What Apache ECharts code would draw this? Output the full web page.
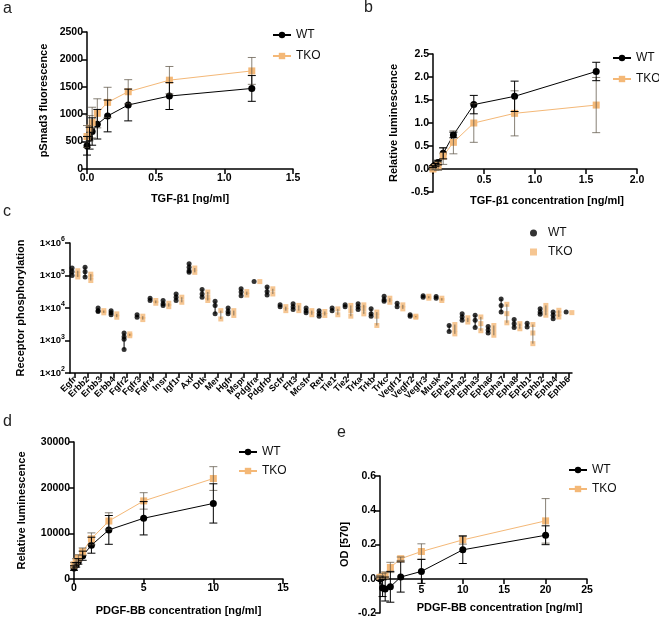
<!DOCTYPE html>
<html>
<head>
<meta charset="utf-8">
<script src="https://cdn.jsdelivr.net/npm/echarts@6/dist/echarts.min.js"></script>
<style>
html,body{margin:0;padding:0;background:#fff;}
#chart{width:659px;height:618px;}
</style>
</head>
<body>
<div id="chart"></div>
<script>
// ---------- Panel a ----------
const aX = [0, 0.01875, 0.0375, 0.075, 0.15, 0.3, 0.6, 1.2];
const aWT = [424, 563, 684, 817, 968, 1168, 1331, 1470];
const aWTsd = [170, 200, 250, 270, 290, 290, 245, 235];
const aTKO = [593, 744, 847, 1016, 1216, 1410, 1621, 1790];
const aTKOsd = [200, 230, 280, 265, 275, 220, 250, 245];
// ---------- Panel b ----------
const bX = [0, 0.025, 0.05, 0.1, 0.2, 0.4, 0.8, 1.6];
const bWT = [0.05, 0.09, 0.14, 0.34, 0.74, 1.40, 1.58, 2.12];
const bWTsd = [0.02, 0.03, 0.05, 0.12, 0.06, 0.2, 0.33, 0.2];
const bTKO = [0.0, 0.04, 0.07, 0.28, 0.58, 1.0, 1.21, 1.39];
const bTKOsd = [0.02, 0.05, 0.1, 0.18, 0.25, 0.42, 0.49, 0.6];
// ---------- Panel c ----------
const cCats = ['Egfr','Erbb2','Erbb3','Erbb4','Fgfr2','Fgfr3','Fgfr4','Insr','Igf1r','Axl','Dtk','Mer','Hgfr','Mspr','Pdgfra','Pdgfrb','Scfr','Flt3','Mcsfr','Ret','Tie1','Tie2','Trka','Trkb','Trkc','Vegfr1','Vegfr2','Vegfr3','Musk','Epha1','Epha2','Epha3','Epha6','Epha7','Epha8','Ephb1','Ephb2','Ephb4','Ephb6'];
const cWT = [
 [1.7e5,1.3e5,1.0e5],[1.8e5,1.3e5,0.9e5],[1.0e4,8.3e3,7.8e3],[8.3e3,7.1e3,6.2e3],[1.7e3,1.3e3,1.1e3,530],
 [6.2e3,5.2e3],[2.0e4,1.7e4],[1.7e4,1.35e4,1.2e4],[2.7e4,2.15e4,1.7e4],[2.3e5,1.8e5,1.4e5,1.25e5],
 [3.7e4,2.7e4,2.15e4],[1.6e4,1.2e4,6.6e3],[1.0e4,7.8e3,6.6e3],[3.9e4,3.1e4,2.4e4],[6.5e4],
 [4.4e4,3.2e4,2.5e4],[1.25e4,1.1e4],[1.35e4,1.1e4,9e3],[1.0e4,8.3e3,7.1e3],[8.3e3,6.6e3,5.6e3],
 [1.0e4,8.3e3],[1.25e4,1.1e4],[1.35e4,1.1e4,9e3],[9.4e3,6.6e3,5.6e3],[2.3e4,1.8e4,1.6e4],
 [1.4e4,1.1e4],[6.2e3,5.6e3],[2.4e4,2.15e4],[2.25e4,2.0e4],[2.9e3,1.9e3],
 [6.7e3,5.3e3,4.2e3],[6.0e3,4.2e3,2.5e3],[2.7e3,2.1e3,1.7e3],[1.9e4,1.2e4,7.5e3],[4.4e3,3.3e3,2.5e3],
 [3.4e3,2.6e3],[9.5e3,7.5e3,6.4e3],[7.5e3,6.0e3,4.7e3],[7.5e3]
];
const cTKO = [
 [1.4e5,1.1e5,0.9e5],[1.1e5,0.9e5,0.7e5],[8.3e3,7.1e3],[6.6e3,5.2e3],[1.6e3,1.4e3],
 [5.6e3,4.4e3],[1.7e4,1.4e4],[1.4e4,1.1e4],[2.15e4,1.5e4],[1.7e5,1.25e5],
 [3.1e4,2.15e4,1.7e4],[8.3e3,4.6e3],[8.3e3,5.9e3],[3.2e4,2.5e4],[6.5e4],
 [3.9e4,2.7e4],[1.1e4,8.3e3],[1.2e4,8.3e3],[8.3e3,6.2e3],[7.8e3,5.9e3],
 [9.4e3,6.2e3],[1.2e4,8.3e3,5.6e3],[1.25e4,9.4e3,6.6e3],[7.5e3,5.6e3,2.9e3],[2.0e4,1.5e4],
 [1.25e4,9.4e3],[5.6e3,5.2e3],[2.3e4,2.0e4],[2.0e4,1.7e4],[3.1e3,2.2e3,1.6e3],
 [5.0e3,3.7e3],[5.3e3,3.3e3,2.0e3],[2.9e3,2.05e3,1.45e3],[1.3e4,6.7e3,3.5e3],[3.3e3,2.3e3],
 [3.1e3,1.7e3,800],[1.2e4,8.5e3,6.0e3],[8.5e3,6.7e3,5.3e3],[7.2e3]
];
// ---------- Panel d ----------
const dX = [0, 0.156, 0.3125, 0.625, 1.25, 2.5, 5, 10];
const dWT = [2400, 3100, 3850, 5100, 7400, 10750, 13300, 16550];
const dWTsd = [500, 500, 600, 1000, 1750, 3150, 3650, 4300];
const dTKO = [3100, 3850, 4600, 6000, 8800, 12700, 17100, 22000];
const dTKOsd = [500, 600, 700, 800, 1300, 1800, 1800, 2600];
// ---------- Panel e ----------
const eX = [0, 0.3125, 0.625, 1.25, 2.5, 5, 10, 20];
const eWT = [0, -0.054, -0.06, -0.047, 0.01, 0.043, 0.169, 0.254];
const eWTsd = [0.01, 0.05, 0.07, 0.09, 0.088, 0.07, 0.08, 0.055];
const eTKO = [0.008, 0.012, 0.02, 0.066, 0.117, 0.159, 0.227, 0.338];
const eTKOsd = [0.01, 0.02, 0.02, 0.03, 0.01, 0.045, 0.025, 0.13];

const BLACK = '#000000';
const ORANGE = '#F4B877';
const ERRGREY = 'rgba(95,85,72,0.75)';
const FONT = 'Liberation Sans, Arial, sans-serif';

function pairs(xs, ys){ return xs.map((x,i)=>[x, ys[i]]); }
function errData(xs, m, sd){ return xs.map((x,i)=>[x, m[i]-sd[i], m[i]+sd[i]]); }
function errRender(color, cap){
  return function(params, api){
    const x = api.value(0), lo = api.value(1), hi = api.value(2);
    const p1 = api.coord([x, lo]), p2 = api.coord([x, hi]);
    const st = {stroke: color, lineWidth: 1};
    const ch = [{type:'line', shape:{x1:p1[0],y1:p1[1],x2:p2[0],y2:p2[1]}, style: st}];
    if (cap > 0) {
      ch.push({type:'line', shape:{x1:p1[0]-cap,y1:p1[1],x2:p1[0]+cap,y2:p1[1]}, style: st});
      ch.push({type:'line', shape:{x1:p2[0]-cap,y1:p2[1],x2:p2[0]+cap,y2:p2[1]}, style: st});
    }
    return {type:'group', children: ch};
  };
}
function errSeries(idx, data, color, cap, z){
  return {type:'custom', xAxisIndex: idx, yAxisIndex: idx, data: data,
    encode:{x:0, y:[1,2]}, renderItem: errRender(color, cap), z: z, silent: true};
}
function lineSeries(idx, name, data, color, symbol){
  return {type:'line', name: name, xAxisIndex: idx, yAxisIndex: idx, data: data,
    symbol: symbol, symbolSize: 7, showSymbol: true,
    lineStyle:{color: color, width: 1}, itemStyle:{color: color}, z: 3};
}
const axLine = {show:true, onZero:false, lineStyle:{color:BLACK, width:1.5}};
const axTick = {show:true, inside:false, length:5, lineStyle:{color:BLACK, width:1.5}};
const tickLbl = {color:BLACK, fontSize:10.5, fontWeight:'bold', fontFamily:FONT, margin:4};
const nameStyle = {color:BLACK, fontSize:11, fontWeight:'bold', fontFamily:FONT};

function valAxis(opt){
  return Object.assign({type:'value', axisLine: axLine, axisTick: axTick, splitLine:{show:false},
    nameLocation:'middle', nameTextStyle: nameStyle}, opt);
}

const gb = {outerBoundsMode:'none', containLabel:false};
const grids = [
  Object.assign({left:87, top:32, width:206, height:137}, gb),     // a
  Object.assign({left:433, top:54, width:204, height:138}, gb),    // b
  Object.assign({left:70, top:243, width:502, height:130}, gb),    // c (values)
  Object.assign({left:68.5, top:243, width:507, height:130}, gb),  // c (categories)
  Object.assign({left:74, top:442, width:209, height:137}, gb),    // d
  Object.assign({left:380, top:476, width:207, height:137}, gb)    // e
];

const xAxes = [
  valAxis({gridIndex:0, min:0, max:1.5, interval:0.5, axisLabel:Object.assign({}, tickLbl, {formatter:v=>v.toFixed(1)}),
    name:'TGF-β1 [ng/ml]', nameGap:24}),
  // x axis of b sits on y = 0 (offset from the grid bottom)
  valAxis({gridIndex:1, min:0, max:2.0, interval:0.5, offset:-23, axisLabel:Object.assign({}, tickLbl, {formatter:v=> v===0?'':v.toFixed(1), margin:6}),
    name:'TGF-β1 concentration [ng/ml]', nameGap:26, nameTextStyle:Object.assign({}, nameStyle, {padding:[0,0,0,24]})}),
  {type:'value', gridIndex:2, min:-0.38, max:38.23, axisLine:axLine, axisTick:{show:false}, axisLabel:{show:false}, splitLine:{show:false}},
  {type:'category', gridIndex:3, data:cCats, boundaryGap:true, axisLine:{show:false, onZero:false},
    axisTick:{show:true, alignWithLabel:true, length:5, lineStyle:{color:BLACK, width:1.5}},
    axisLabel:{interval:0, rotate:45, color:BLACK, fontSize:9, fontWeight:'bold', fontFamily:FONT, margin:5}},
  valAxis({gridIndex:4, min:0, max:15, interval:5, axisLabel:Object.assign({}, tickLbl),
    name:'PDGF-BB concentration [ng/ml]', nameGap:26}),
  // x axis of e sits on y = 0
  valAxis({gridIndex:5, min:0, max:25, interval:5, offset:-34, axisLabel:Object.assign({}, tickLbl, {formatter:v=> v===0?'':String(v), margin:6}),
    name:'PDGF-BB concentration [ng/ml]', nameGap:23, nameTextStyle:Object.assign({}, nameStyle, {padding:[0,0,0,32]})})
];

const yAxes = [
  valAxis({gridIndex:0, min:0, max:2500, interval:500, axisLabel:Object.assign({}, tickLbl, {formatter:v=>String(v)}), name:'pSmad3 fluorescence', nameGap:38}),
  valAxis({gridIndex:1, min:-0.5, max:2.5, interval:0.5, axisLabel:Object.assign({}, tickLbl, {formatter:v=>(Math.abs(v)<1e-9?0:v).toFixed(1)}), name:'Relative luminescence', nameGap:34}),
  {type:'log', gridIndex:2, logBase:10, min:1e2, max:1e6, axisLine:axLine, axisTick:axTick, splitLine:{show:false}, minorTick:{show:false},
    axisLabel:{margin:5, formatter:function(v){ const e = Math.round(Math.log10(v)); return '{b|1×10}{s|' + e + '}'; },
      rich:{b:{color:BLACK, fontSize:9.5, fontWeight:'bold', fontFamily:FONT, lineHeight:14},
            s:{color:BLACK, fontSize:7, fontWeight:'bold', fontFamily:FONT, lineHeight:7, verticalAlign:'top'}}},
    name:'Receptor phosphorylation', nameLocation:'middle', nameGap:44, nameTextStyle:nameStyle},
  {type:'value', gridIndex:3, show:false, min:0, max:1},
  valAxis({gridIndex:4, min:0, max:30000, interval:10000, axisLabel:Object.assign({}, tickLbl, {formatter:v=>String(v)}), name:'Relative luminescence', nameGap:47}),
  valAxis({gridIndex:5, min:-0.2, max:0.6, interval:0.2, axisLabel:Object.assign({}, tickLbl, {formatter:v=>(Math.abs(v)<1e-9?0:v).toFixed(1)}), name:'OD [570]', nameGap:30})
];

// panel c scatter data
const cWTpts = [], cTKOpts = [], cWTerr = [], cTKOerr = [];
cCats.forEach((c,i)=>{
  cWT[i].forEach(v=>cWTpts.push([i-0.22, v]));
  cTKO[i].forEach(v=>cTKOpts.push([i+0.22, v]));
  if (cWT[i].length>1) cWTerr.push([i-0.22, Math.min(...cWT[i]), Math.max(...cWT[i])]);
  if (cTKO[i].length>1) cTKOerr.push([i+0.22, Math.min(...cTKO[i]), Math.max(...cTKO[i])]);
});

const series = [
  lineSeries(0,'a-WT', pairs(aX,aWT), BLACK, 'circle'),
  lineSeries(0,'a-TKO', pairs(aX,aTKO), ORANGE, 'rect'),
  errSeries(0, errData(aX,aTKO,aTKOsd), ERRGREY, 4, 4),
  errSeries(0, errData(aX,aWT,aWTsd), BLACK, 4, 5),

  lineSeries(1,'b-WT', pairs(bX,bWT), BLACK, 'circle'),
  lineSeries(1,'b-TKO', pairs(bX,bTKO), ORANGE, 'rect'),
  errSeries(1, errData(bX,bTKO,bTKOsd), ERRGREY, 4, 4),
  errSeries(1, errData(bX,bWT,bWTsd), BLACK, 4, 5),

  {type:'scatter', name:'c-WT', xAxisIndex:2, yAxisIndex:2, data:cWTpts, symbol:'circle', symbolSize:5, itemStyle:{color:BLACK}, z:3},
  {type:'scatter', name:'c-TKO', xAxisIndex:2, yAxisIndex:2, data:cTKOpts, symbol:'rect', symbolSize:5, itemStyle:{color:ORANGE}, z:3},
  errSeries(2, cWTerr, BLACK, 0, 4),
  errSeries(2, cTKOerr, ERRGREY, 0, 4),

  lineSeries(4,'d-WT', pairs(dX,dWT), BLACK, 'circle'),
  lineSeries(4,'d-TKO', pairs(dX,dTKO), ORANGE, 'rect'),
  errSeries(4, errData(dX,dTKO,dTKOsd), ERRGREY, 4, 4),
  errSeries(4, errData(dX,dWT,dWTsd), BLACK, 4, 5),

  lineSeries(5,'e-WT', pairs(eX,eWT), BLACK, 'circle'),
  lineSeries(5,'e-TKO', pairs(eX,eTKO), ORANGE, 'rect'),
  errSeries(5, errData(eX,eTKO,eTKOsd), ERRGREY, 4, 4),
  errSeries(5, errData(eX,eWT,eWTsd), BLACK, 4, 5)
];

function legend(p, left, top, gap){
  return {data:[p+'-WT', p+'-TKO'], left:left, top:top, orient:'vertical', itemGap:gap,
    itemWidth:18, itemHeight:8, selectedMode:false,
    formatter: n => n.split('-')[1],
    textStyle:{color:'#111', fontSize:12, fontFamily:FONT}};
}

const option = {
  animation:false,
  backgroundColor:'#fff',
  grid: grids,
  xAxis: xAxes,
  yAxis: yAxes,
  legend: [
    legend('a', 267, 24, 9),
    legend('b', 607, 47, 9),
    {data:[{name:'c-WT', icon:'circle'}, {name:'c-TKO', icon:'rect'}], left:525, top:221, orient:'vertical', itemGap:5,
      itemWidth:7, itemHeight:7, selectedMode:false, formatter: n => n.split('-')[1],
      textStyle:{color:'#111', fontSize:12, fontFamily:FONT, padding:[0,0,0,6], lineHeight:14}},
    legend('d', 233, 441, 7),
    legend('e', 563, 459, 7)
  ],
  graphic: [
    {type:'text', left:3, top:1, style:{text:'a', font:'16px '+FONT, fill:'#222'}},
    {type:'text', left:364, top:0, style:{text:'b', font:'16px '+FONT, fill:'#222'}},
    {type:'text', left:3, top:204, style:{text:'c', font:'16px '+FONT, fill:'#222'}},
    {type:'text', left:3, top:414, style:{text:'d', font:'16px '+FONT, fill:'#222'}},
    {type:'text', left:337, top:425, style:{text:'e', font:'16px '+FONT, fill:'#222'}}
  ],
  series: series
};
const chart = echarts.init(document.getElementById('chart'), null, {renderer:'canvas'});
chart.setOption(option);
</script>
</body>
</html>
